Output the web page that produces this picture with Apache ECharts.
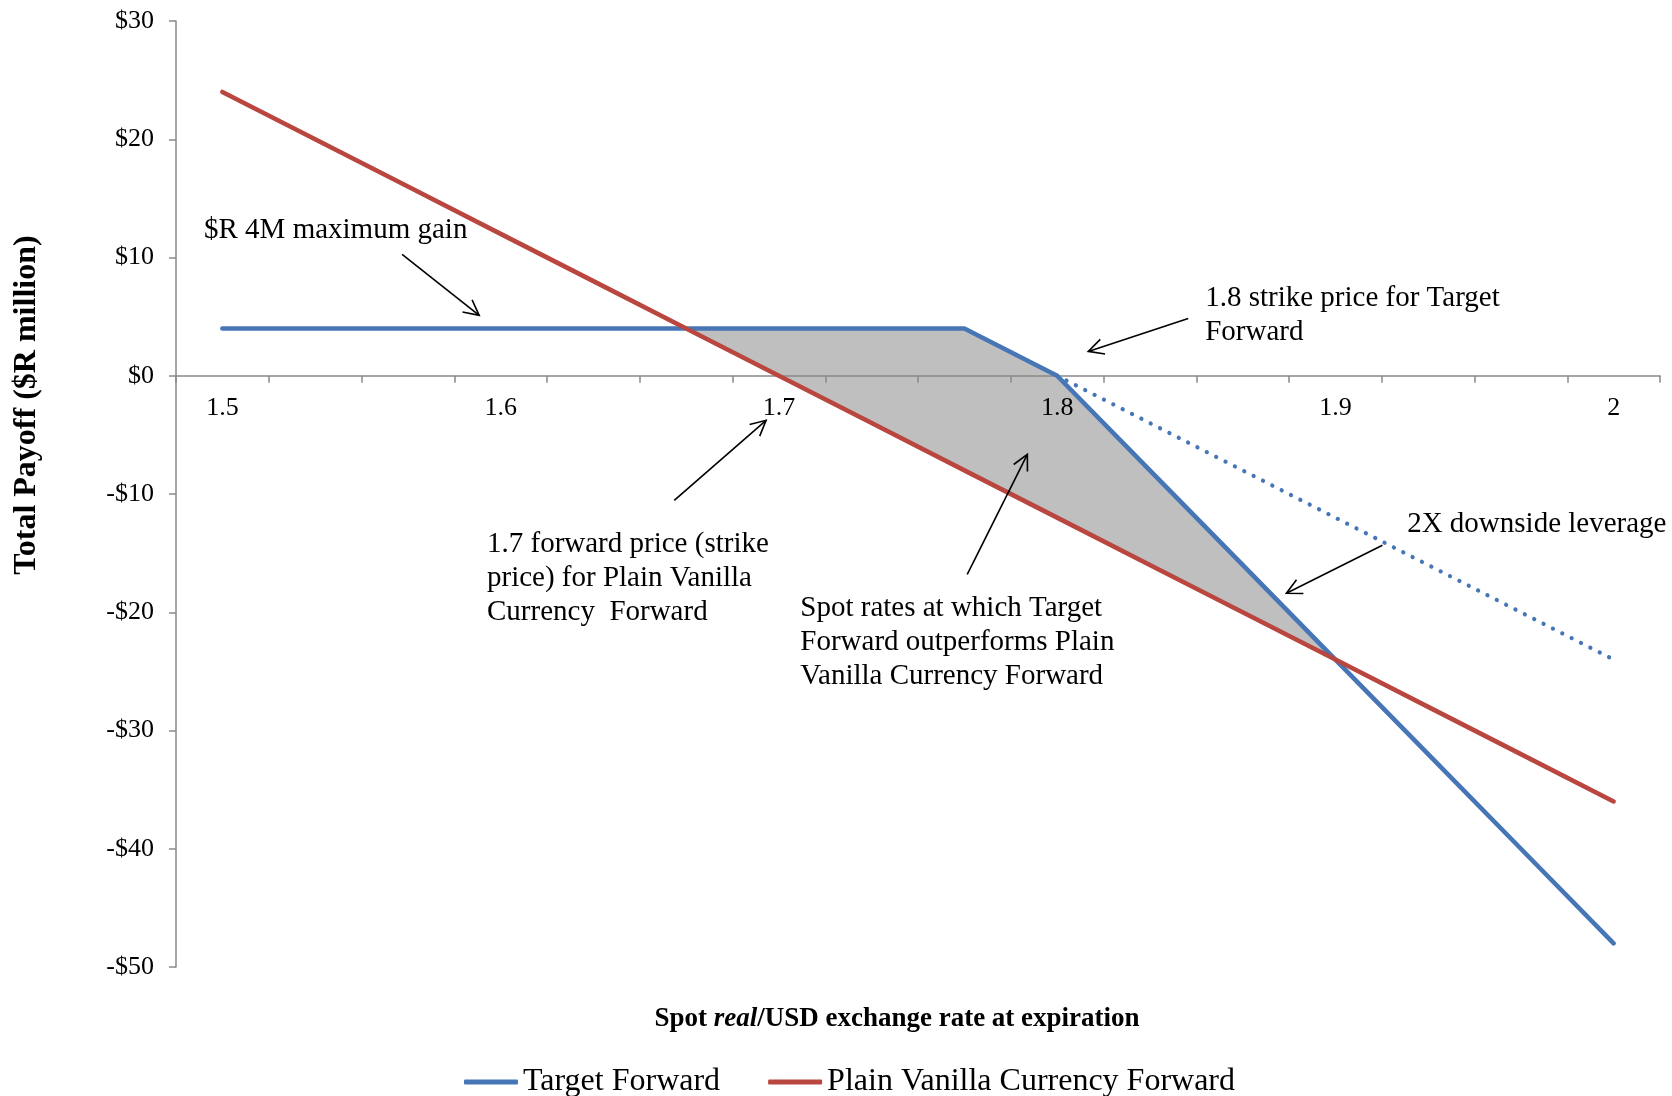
<!DOCTYPE html>
<html>
<head>
<meta charset="utf-8">
<script src="https://cdn.jsdelivr.net/npm/echarts@6/dist/echarts.min.js"></script>
<style>
  html, body { margin: 0; padding: 0; background: #fff; }
  #chart { width: 1672px; height: 1096px; }
</style>
</head>
<body>
<div id="chart"></div>
<script>
// Spot real/USD rate at expiration, one category every 1/30
const spotRates = ['1.5', '1.533', '1.567', '1.6', '1.633', '1.667', '1.7', '1.733',
                   '1.767', '1.8', '1.833', '1.867', '1.9', '1.933', '1.967', '2'];

// Total payoff in $R million at each spot rate
const targetForward = [4, 4, 4, 4, 4, 4, 4, 4, 4, 0, -8, -16, -24, -32, -40, -48];
const plainVanilla  = [24, 20, 16, 12, 8, 4, 0, -4, -8, -12, -16, -20, -24, -28, -32, -36];
// Target Forward payoff past the 1.8 strike if there were no 2X leverage
const unleveraged   = [null, null, null, null, null, null, null, null, null, 0, -4, -8, -12, -16, -20, -24];

// First and last category of the zone where the Target Forward pays more
const outperformZone = [5, 12];

// Payoff axis ticks
const payoffMin = -50, payoffMax = 30, payoffStep = 10;

// Call-out texts, anchored at their top-left corner in (spot rate, payoff) units
const noteTexts = [
  '$R 4M maximum gain',
  '1.8 strike price for Target\nForward',
  '1.7 forward price (strike\nprice) for Plain Vanilla\nCurrency  Forward',
  'Spot rates at which Target\nForward outperforms Plain\nVanilla Currency Forward',
  '2X downside leverage'
];
const noteAnchors = [
  [1.4934, 13.72],
  [1.8532, 8.0],
  [1.5951, -12.85],
  [1.7077, -18.26],
  [1.9258, -11.12]
];
// Call-out arrows: [fromRate, fromPayoff, toRate, toPayoff]
const noteArrows = [
  [1.5646, 10.27, 1.5923, 5.11],
  [1.8471, 4.85, 1.8112, 2.06],
  [1.6624, -10.54, 1.6954, -3.77],
  [1.7677, -16.79, 1.7893, -6.65],
  [1.9169, -14.34, 1.8824, -18.4]
];

const BLUE = '#4776B6';
const RED = '#B9463F';
const AXIS = '#898989';
const SERIF = '"Liberation Serif", "Times New Roman", serif';

const chart = echarts.init(document.getElementById('chart'), null, { renderer: 'canvas' });

const fmtPayoff = v => (v < 0 ? '-$' + (-v) : '$' + v);
const fmtRate = v => String(Math.round(parseFloat(v) * 10) / 10);

chart.setOption({
  animation: false,
  backgroundColor: '#fff',
  grid: { left: 176, right: 12, top: 21, bottom: 129, containLabel: false },
  legend: {
    data: ['Target Forward', 'Plain Vanilla Currency Forward'],
    left: 464,
    top: 1066,
    padding: 0,
    itemGap: 48,
    itemWidth: 54,
    itemHeight: 5,
    icon: 'roundRect',
    textStyle: { fontFamily: SERIF, fontSize: 32, color: '#000' }
  },
  xAxis: [
    {
      type: 'category',
      data: spotRates,
      boundaryGap: true,
      position: 'bottom',
      z: 2,
      axisLine: { onZero: false, lineStyle: { color: AXIS, width: 1.5 } },
      axisTick: { show: true, interval: 0, length: 7, lineStyle: { color: AXIS, width: 1.5 } },
      axisLabel: {
        interval: 2,
        formatter: fmtRate,
        fontFamily: SERIF,
        fontSize: 26,
        color: '#000',
        margin: 19
      },
      splitLine: { show: false }
    },
    {
      // Continuous spot-rate scale used to place the call-outs
      type: 'value',
      min: 1.5 - 1 / 60,
      max: 2 + 1 / 60,
      show: false
    }
  ],
  yAxis: {
    type: 'value',
    min: payoffMin,
    max: payoffMax,
    interval: payoffStep,
    z: 2,
    axisLine: { show: true, lineStyle: { color: AXIS, width: 1.5 } },
    axisTick: { show: true, length: 7, lineStyle: { color: AXIS, width: 1.5 } },
    axisLabel: { formatter: fmtPayoff, fontFamily: SERIF, fontSize: 26, color: '#000', margin: 22 },
    splitLine: { show: false }
  },
  graphic: [
    {
      type: 'text',
      x: 27,
      y: 405,
      rotation: Math.PI / 2,
      style: {
        text: 'Total Payoff ($R million)',
        fontFamily: SERIF,
        fontWeight: 'bold',
        fontSize: 32,
        fill: '#000',
        align: 'center',
        verticalAlign: 'middle'
      }
    },
    {
      type: 'text',
      x: 897,
      y: 1019,
      style: {
        text: '{b|Spot }{i|real}{b|/USD exchange rate at expiration}',
        rich: {
          b: { fontFamily: SERIF, fontWeight: 'bold', fontSize: 27, fill: '#000' },
          i: { fontFamily: SERIF, fontWeight: 'bold', fontStyle: 'italic', fontSize: 27, fill: '#000' }
        },
        align: 'center',
        verticalAlign: 'middle'
      }
    }
  ],
  series: [
    {
      // Shaded zone between the two payoff lines
      type: 'custom',
      name: 'outperform',
      xAxisIndex: 0,
      yAxisIndex: 0,
      silent: true,
      z: 1,
      data: [0],
      renderItem: function (params, api) {
        const pts = [];
        for (let i = outperformZone[0]; i <= outperformZone[1]; i++) {
          pts.push(api.coord([i, targetForward[i]]));
        }
        for (let i = outperformZone[1]; i >= outperformZone[0]; i--) {
          pts.push(api.coord([i, plainVanilla[i]]));
        }
        return { type: 'polygon', shape: { points: pts }, style: { fill: '#BFBFBF' } };
      }
    },
    {
      type: 'line',
      name: 'unleveraged',
      data: unleveraged,
      showSymbol: false,
      symbol: 'none',
      connectNulls: false,
      z: 3,
      lineStyle: { color: BLUE, width: 4.2, type: [0.1, 10.4], cap: 'round' },
      itemStyle: { color: BLUE }
    },
    {
      type: 'line',
      name: 'Target Forward',
      data: targetForward,
      showSymbol: false,
      symbol: 'none',
      z: 4,
      lineStyle: { color: BLUE, width: 4.6, cap: 'round', join: 'round' },
      itemStyle: { color: BLUE }
    },
    {
      type: 'line',
      name: 'Plain Vanilla Currency Forward',
      data: plainVanilla,
      showSymbol: false,
      symbol: 'none',
      z: 5,
      lineStyle: { color: RED, width: 4.6, cap: 'round', join: 'round' },
      itemStyle: { color: RED }
    },
    {
      // Call-out arrows
      type: 'custom',
      name: 'arrows',
      xAxisIndex: 1,
      yAxisIndex: 0,
      silent: true,
      z: 6,
      dimensions: ['x1', 'y1', 'x2', 'y2'],
      encode: { x: [0, 2], y: [1, 3] },
      data: noteArrows,
      renderItem: function (params, api) {
        const a = api.coord([api.value(0), api.value(1)]);
        const b = api.coord([api.value(2), api.value(3)]);
        const ang = Math.atan2(b[1] - a[1], b[0] - a[0]);
        const L = 17, spread = 0.47;
        const h1 = [b[0] - L * Math.cos(ang - spread), b[1] - L * Math.sin(ang - spread)];
        const h2 = [b[0] - L * Math.cos(ang + spread), b[1] - L * Math.sin(ang + spread)];
        return {
          type: 'group',
          children: [
            { type: 'line', shape: { x1: a[0], y1: a[1], x2: b[0], y2: b[1] },
              style: { stroke: '#000', lineWidth: 1.6 } },
            { type: 'polyline', shape: { points: [h1, b, h2] },
              style: { stroke: '#000', lineWidth: 1.6, fill: null } }
          ]
        };
      }
    },
    {
      // Call-out texts
      type: 'custom',
      name: 'notes',
      xAxisIndex: 1,
      yAxisIndex: 0,
      silent: true,
      z: 7,
      dimensions: ['x', 'y'],
      encode: { x: 0, y: 1 },
      data: noteAnchors,
      renderItem: function (params, api) {
        const p = api.coord([api.value(0), api.value(1)]);
        return {
          type: 'text',
          x: p[0],
          y: p[1],
          style: {
            text: noteTexts[params.dataIndex],
            fontFamily: SERIF,
            fontSize: 29,
            lineHeight: 34,
            fill: '#000',
            align: 'left',
            verticalAlign: 'top'
          }
        };
      }
    }
  ]
});

// Move the rate axis (line, ticks and labels) up to where the payoff is zero
const zeroY = chart.convertToPixel({ yAxisIndex: 0 }, 0);
const floorY = chart.convertToPixel({ yAxisIndex: 0 }, payoffMin);
chart.setOption({ xAxis: [{ offset: zeroY - floorY }, {}] });
</script>
</body>
</html>
